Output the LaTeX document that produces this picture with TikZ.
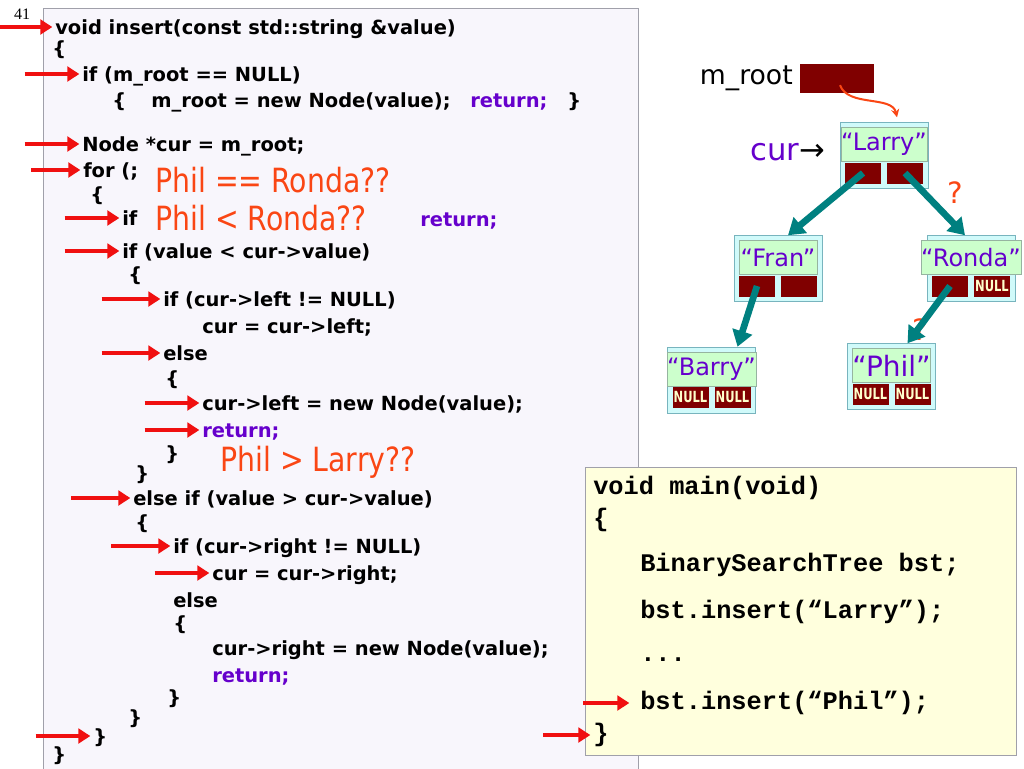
\documentclass[tikz,border=0pt]{standalone}
\usepackage{fontspec}
\setmainfont{DejaVu Sans}
\newfontfamily\mainboxfont{Liberation Mono}
\newfontfamily\serifnum{Liberation Serif}
\newfontfamily\nulltxt{DejaVu Sans}[FakeStretch=0.75]
\newfontfamily\guessfont{DejaVu Sans}[FakeStretch=0.85]
\usepackage{tikz}
\usetikzlibrary{positioning,arrows.meta,calc}
\definecolor{codebg}{RGB}{248,246,252}
\definecolor{codeframe}{RGB}{160,160,170}
\definecolor{kwpurple}{RGB}{102,0,204}
\definecolor{guessred}{RGB}{250,70,20}
\definecolor{arrowred}{RGB}{240,16,16}
\definecolor{darkred}{RGB}{128,0,0}
\definecolor{cellcyan}{RGB}{208,250,250}
\definecolor{cellframe}{RGB}{120,180,190}
\definecolor{valgreen}{RGB}{204,255,204}
\definecolor{valframe}{RGB}{150,180,160}
\definecolor{tealline}{RGB}{0,128,128}
\definecolor{mainbg}{RGB}{255,255,221}
\definecolor{nullyellow}{RGB}{255,255,204}
\newcommand{\redtip}{-{Triangle[length=9pt,width=11pt]}}
\newcommand{\tealtip}{-{Triangle[length=12pt,width=15pt]}}
\tikzset{
  code/.style={anchor=west,inner sep=0pt,text height=12.5pt,text depth=2pt,font=\bfseries\fontsize{14.6}{17}\selectfont},
  kw/.style={code,text=kwpurple},
  guess/.style={anchor=west,inner sep=0pt,text height=18pt,text depth=5pt,text=guessred,font=\guessfont\fontsize{25}{28}\selectfont},
  mono/.style={anchor=west,inner sep=0pt,text height=13pt,text depth=4pt,font=\mainboxfont\bfseries\fontsize{19}{22}\selectfont},
  redarr/.style={draw=arrowred,line width=3pt,shorten >=2pt},
  tealarr/.style={draw=tealline,line width=5pt},
  outerbox/.style={draw=cellframe,fill=cellcyan,minimum width=66pt,minimum height=49.5pt,inner sep=0pt},
  valbox/.style={draw=valframe,fill=valgreen,minimum width=58.5pt,minimum height=25.5pt,inner sep=0pt,text=kwpurple,font=\fontsize{18}{20}\selectfont},
  ptrbox/.style={fill=darkred,minimum width=27pt,minimum height=15.75pt,inner sep=0pt,text=nullyellow,font=\nulltxt\bfseries\fontsize{11.5}{12}\selectfont}
}
\newcommand{\bstnode}[5]{%
  \node[outerbox] (#1) at (#2) {};
  \node[valbox,anchor=north] (#1v) at ([yshift=-3.75pt]#1.north) {#3};
  \node[ptrbox,anchor=south west] (#1l) at ([shift={(3.75pt,3.75pt)}]#1.south west) {#4};
  \node[ptrbox,anchor=south east] (#1r) at ([shift={(-3.75pt,3.75pt)}]#1.south east) {#5};
}

\begin{document}
\begin{tikzpicture}[x=0.75pt,y=-0.75pt]
\useasboundingbox (0,0) rectangle (1024,768);
\fill[white] (0,0) rectangle (1024,768);
\draw[codeframe,fill=codebg] (43,8) rectangle (638,790);
\node[font=\serifnum\fontsize{12}{12}\selectfont] (num) at (22,14) {41};

\node[code] (l1) at (55,27) {void insert(const std::string \&value)};
\node[code] (l2) at (52,48) {\{};
\node[code] (l3) at (82,74) {if (m\_root == NULL)};
\node[code] (l4) at (112,100) {\{};
\node[code] (l4b) at (151,100) {m\_root = new Node(value);};
\node[kw] (l4c) at (470,100) {return;};
\node[code] (l4d) at (567,100) {\}};
\node[code] (l5) at (82,144) {Node *cur = m\_root;};
\node[code] (l6) at (83,170) {for (;};
\node[code] (l7) at (90,194) {\{};
\node[code] (l8) at (122,218) {if};
\node[kw] (l8r) at (420,219) {return;};
\node[code] (l9) at (122,251) {if (value < cur->value)};
\node[code] (l10) at (128,274) {\{};
\node[code] (l11) at (163,299) {if (cur->left != NULL)};
\node[code] (l12) at (202,326) {cur = cur->left;};
\node[code] (l13) at (163,353) {else};
\node[code] (l14) at (165,378) {\{};
\node[code] (l15) at (202,403) {cur->left = new Node(value);};
\node[kw] (l16) at (202,430) {return;};
\node[code] (l17) at (165,453) {\}};
\node[code] (l18) at (135,473) {\}};
\node[code] (l19) at (133,498) {else if (value > cur->value)};
\node[code] (l20) at (135,522) {\{};
\node[code] (l21) at (173,546) {if (cur->right != NULL)};
\node[code] (l22) at (212,573) {cur = cur->right;};
\node[code] (l23) at (173,600) {else};
\node[code] (l24) at (173,623) {\{};
\node[code] (l25) at (212,648) {cur->right = new Node(value);};
\node[kw] (l26) at (212,675) {return;};
\node[code] (l27) at (167,697) {\}};
\node[code] (l28) at (128,717) {\}};
\node[code] (l29) at (93,736) {\}};
\node[code] (l30) at (52,754) {\}};

\node[guess] (g1) at (155,184) {Phil == Ronda??};
\node[guess] (g2) at (155,222) {Phil < Ronda??};
\node[guess] (g3) at (220,463) {Phil > Larry??};

\foreach \n/\len in {l1/41,l3/43,l5/43,l6/39,l8/43,l9/43,l11/46,l13/46,l15/43,l16/43,l19/46.5,l21/46.5,l22/43,l29/43}
  \draw[redarr,\redtip] ([xshift=-\len pt]\n.west) -- (\n.west);

\draw[codeframe,fill=mainbg] (585,467) rectangle (1016,755);
\node[mono] (m1) at (593,488) {void main(void)};
\node[mono] (m2) at (593,520) {\{};
\node[mono] (m3) at (640,565) {BinarySearchTree bst;};
\node[mono] (m4) at (640,612) {bst.insert(“Larry”);};
\node[mono] (m5) at (640,655) {...};
\node[mono] (m6) at (640,703) {bst.insert(“Phil”);};
\node[mono] (m7) at (593,735) {\}};
\draw[redarr,\redtip] ([xshift=-42.75pt]m6.west) -- ([xshift=-6pt]m6.west);
\draw[redarr,\redtip] ([xshift=-37.5pt]m7.west) -- (m7.west);

\node[font=\fontsize{20}{24}\selectfont,anchor=east,inner sep=0pt] (mroot) at (793,78) {m\_root};
\node[ptrbox,minimum width=55.5pt,minimum height=21.75pt] (mrootbox) at (837,78.5) {};
\node[anchor=west,inner sep=0pt,text=kwpurple,font=\fontsize{23}{27}\selectfont] (cur) at (750,152) {cur\textcolor{black}{→}};
\node[text=guessred,font=\fontsize{22}{26}\selectfont] (q1) at (955,193) {?};
\node[text=guessred,font=\fontsize{22}{26}\selectfont] (q2) at (920,330) {?};

\bstnode{larry}{884,155.5}{“Larry”}{}{}
\bstnode{fran}{778,268.5}{“Fran”}{}{}
\bstnode{ronda}{971,268.5}{“Ronda”}{}{NULL}
\bstnode{barry}{711.5,380}{“Barry”}{NULL}{NULL}
\bstnode{phil}{891.5,376.5}{\fontsize{21}{24}\selectfont “Phil”}{NULL}{NULL}

\draw[tealarr,\tealtip] (larryl.center) -- ([xshift=7.5pt]fran.north);
\draw[tealarr,\tealtip] (larryr.center) -- ([xshift=-4.5pt]ronda.north);
\draw[tealarr,\tealtip] (franl.center) -- ([xshift=19.5pt]barry.north);
\draw[tealarr,\tealtip] (rondal.center) -- ([xshift=12pt]phil.north);
\draw[guessred,line width=1.5pt,-{Stealth[length=6pt,width=6pt]}] ([shift={(2.25pt,-5pt)}]mrootbox.center) .. controls +(8,22) and +(-5,-22) .. ([shift={(9.75pt,3.75pt)}]larry.north);
\end{tikzpicture}
\end{document}
